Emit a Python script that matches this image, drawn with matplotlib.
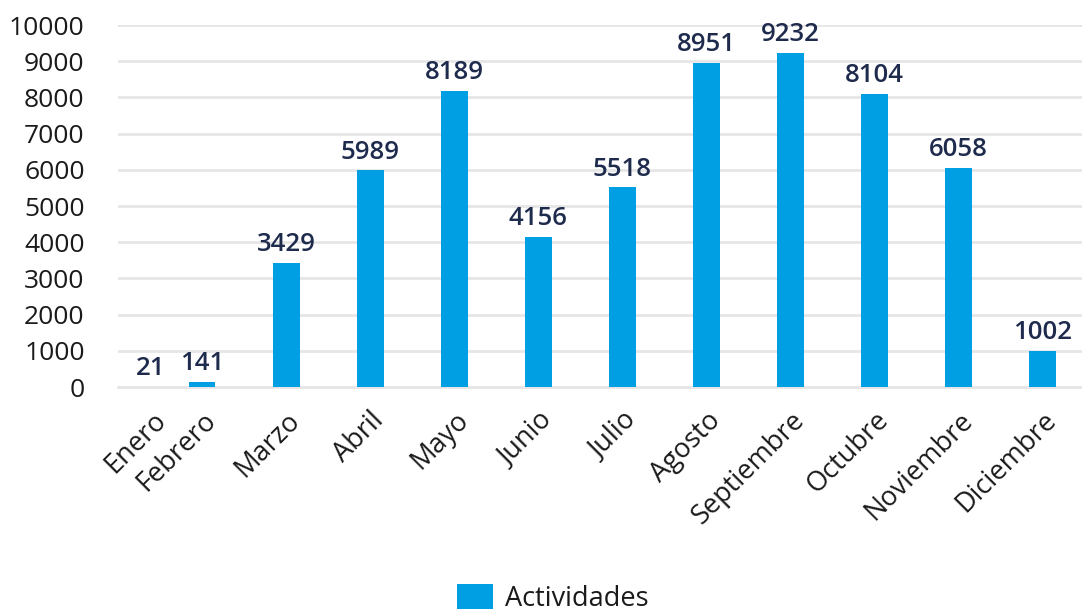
import matplotlib
matplotlib.use("Agg")
import matplotlib.pyplot as plt
import matplotlib.transforms as mtransforms
import numpy as np

categories = ["Enero", "Febrero", "Marzo", "Abril", "Mayo", "Junio", "Julio",
              "Agosto", "Septiembre", "Octubre", "Noviembre", "Diciembre"]
values = [21, 141, 3429, 5989, 8189, 4156, 5518, 8951, 9232, 8104, 6058, 1002]
yticks = [0, 1000, 2000, 3000, 4000, 5000, 6000, 7000, 8000, 9000, 10000]
series_name = "Actividades"

plt.rcParams['font.family'] = ['Open Sans', 'DejaVu Sans']

BLUE = "#009fe3"
NAVY = "#1f2b4d"
GRID = "#e6e6e6"
TXT = "#1a1a1a"

fig = plt.figure(figsize=(10.82, 6.12), dpi=100)
ax = fig.add_axes([0.109, 0.3676, 0.892, 0.5915])

x = np.arange(len(categories))
bars = ax.bar(x, values, width=0.32, color=BLUE, label=series_name, zorder=3)
# In the reference the first bar falls at the very left edge of the plot and is not seen
bars[0].set_visible(False)

ax.set_xlim(0.02, 11.48)
ax.set_ylim(0, 10000)
ax.set_yticks(yticks)
ax.set_yticklabels([str(v) for v in yticks], fontsize=19, color=TXT)
ax.grid(axis="y", color=GRID, linewidth=2, zorder=0)
for s in ["top", "right", "left"]:
    ax.spines[s].set_visible(False)
ax.spines["bottom"].set_color(GRID)
ax.spines["bottom"].set_linewidth(2)
ax.tick_params(axis="both", length=0)
ax.tick_params(axis="y", pad=24)

ax.set_xticks(x)
ax.set_xticklabels(categories, rotation=45, ha="right", va="top",
                   rotation_mode="anchor", fontsize=19.5, color=TXT)
ax.tick_params(axis="x", pad=14)

for i, (b, v) in enumerate(zip(bars, values)):
    dx = 33 if i == 0 else 0
    ax.annotate(str(v), (b.get_x() + b.get_width() / 2, v),
                xytext=(dx * 0.72, 4), textcoords="offset points",
                ha="center", va="bottom", fontsize=18.5, color=NAVY,
                fontweight="semibold", zorder=4, annotation_clip=False)

# first tick label shifted like the reference (kept inside the plot)
lbl0 = ax.get_xticklabels()[0]
lbl0.set_transform(lbl0.get_transform() + mtransforms.ScaledTranslation(34 / 100, 0, fig.dpi_scale_trans))

leg = fig.legend(handles=[bars], labels=[series_name], loc="center",
                 bbox_to_anchor=(0.511, 0.022), frameon=False, fontsize=19.5,
                 handlelength=1.35, handleheight=1.05, handletextpad=0.45)
for t in leg.get_texts():
    t.set_color(TXT)
for h in leg.legend_handles:
    h.set_visible(True)

fig.savefig("out.png", dpi=100)
